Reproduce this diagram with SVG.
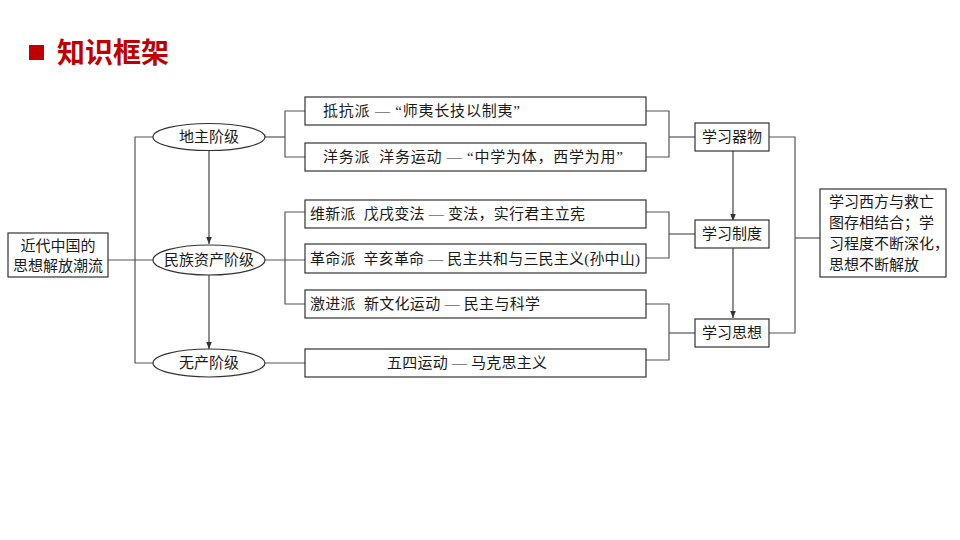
<svg xmlns="http://www.w3.org/2000/svg" width="960" height="540" viewBox="0 0 960 540">
<defs>
<style>
.t{font-family:"Liberation Serif","Noto Sans CJK SC",serif;font-size:15px;fill:#1a1a1a;white-space:pre}
.c{text-anchor:middle}
.box{fill:#fff;stroke:#333;stroke-width:1.2}
.ln{fill:none;stroke:#555;stroke-width:1.2}
.ar{fill:none;stroke:#444;stroke-width:1.2;marker-end:url(#ah)}
</style>
<marker id="ah" viewBox="0 0 10 10" refX="10" refY="5" markerWidth="7" markerHeight="7" markerUnits="userSpaceOnUse" orient="auto">
<path d="M0,1 L10,5 L0,9 z" fill="#333"/>
</marker>
</defs>
<rect width="960" height="540" fill="#fff"/>
<g id="title">
<rect x="29" y="45" width="15" height="15" fill="#C00000"/>
<text x="57" y="63" style="font-family:'Noto Sans CJK SC',sans-serif;font-size:28px;font-weight:bold;fill:#C00000">知识框架</text>
</g>
<g id="connectors">
<polyline class="ln" points="108,260 153,260"/>
<polyline class="ln" points="153,137 135,137 135,363 153,363"/>
<line class="ar" x1="209" y1="150" x2="209" y2="244"/>
<line class="ar" x1="209" y1="275" x2="209" y2="349"/>
<polyline class="ln" points="265,137 285,137"/>
<polyline class="ln" points="305,111 285,111 285,157 305,157"/>
<polyline class="ln" points="265,260 305,260"/>
<polyline class="ln" points="305,212 285,212 285,304 305,304"/>
<polyline class="ln" points="265,363 305,363"/>
<polyline class="ln" points="646,111 669,111 669,157 646,157"/>
<line class="ln" x1="669" y1="137" x2="695" y2="137"/>
<polyline class="ln" points="646,212 669,212 669,258 646,258"/>
<line class="ln" x1="669" y1="234" x2="695" y2="234"/>
<polyline class="ln" points="646,304 669,304 669,360 646,360"/>
<line class="ln" x1="669" y1="333" x2="695" y2="333"/>
<line class="ar" x1="733" y1="151" x2="733" y2="221"/>
<line class="ar" x1="733" y1="248" x2="733" y2="318"/>
<polyline class="ln" points="769,137 795,137 795,333 769,333"/>
<line class="ln" x1="795" y1="238" x2="820" y2="238"/>
</g>
<g id="root">
<rect class="box" x="8" y="233" width="100" height="44"/>
<text class="t c" x="58" y="251">近代中国的</text>
<text class="t c" x="58" y="271">思想解放潮流</text>
</g>
<g id="dizhu">
<ellipse class="box" cx="209" cy="137" rx="56" ry="13.5"/>
<text class="t c" x="209" y="142">地主阶级</text>
</g>
<g id="minzu">
<ellipse class="box" cx="209" cy="260" rx="56" ry="15"/>
<text class="t c" x="209" y="265">民族资产阶级</text>
</g>
<g id="wuchan">
<ellipse class="box" cx="209" cy="363" rx="56" ry="14"/>
<text class="t c" x="209" y="368">无产阶级</text>
</g>
<g id="b1">
<rect class="box" x="305" y="97" width="341" height="28"/>
<text class="t" x="323" y="116" textLength="197">抵抗派 — “师夷长技以制夷”</text>
</g>
<g id="b2">
<rect class="box" x="305" y="143" width="341" height="28"/>
<text class="t" x="323" y="162" textLength="300">洋务派  洋务运动 — “中学为体，西学为用”</text>
</g>
<g id="b3">
<rect class="box" x="305" y="200" width="341" height="28"/>
<text class="t" x="310" y="219" textLength="275">维新派  戊戌变法 — 变法，实行君主立宪</text>
</g>
<g id="b4">
<rect class="box" x="305" y="244" width="341" height="29"/>
<text class="t" x="310" y="264" textLength="330">革命派  辛亥革命 — 民主共和与三民主义(孙中山)</text>
</g>
<g id="b5">
<rect class="box" x="305" y="290" width="341" height="28"/>
<text class="t" x="310" y="309" textLength="230">激进派  新文化运动 — 民主与科学</text>
</g>
<g id="b6">
<rect class="box" x="305" y="349" width="341" height="28"/>
<text class="t" x="387" y="368" textLength="160">五四运动 — 马克思主义</text>
</g>
<g id="qiwu">
<rect class="box" x="695" y="123" width="74" height="28"/>
<text class="t c" x="732" y="142">学习器物</text>
</g>
<g id="zhidu">
<rect class="box" x="695" y="220" width="74" height="28"/>
<text class="t c" x="732" y="239">学习制度</text>
</g>
<g id="sixiang">
<rect class="box" x="695" y="319" width="74" height="28"/>
<text class="t c" x="732" y="338">学习思想</text>
</g>
<g id="summary">
<rect class="box" x="820" y="189" width="126" height="88"/>
<text class="t" x="829" y="207">学习西方与救亡</text>
<text class="t" x="829" y="228">图存相结合；学</text>
<text class="t" x="829" y="249">习程度不断深化，</text>
<text class="t" x="829" y="270">思想不断解放</text>
</g>
</svg>
